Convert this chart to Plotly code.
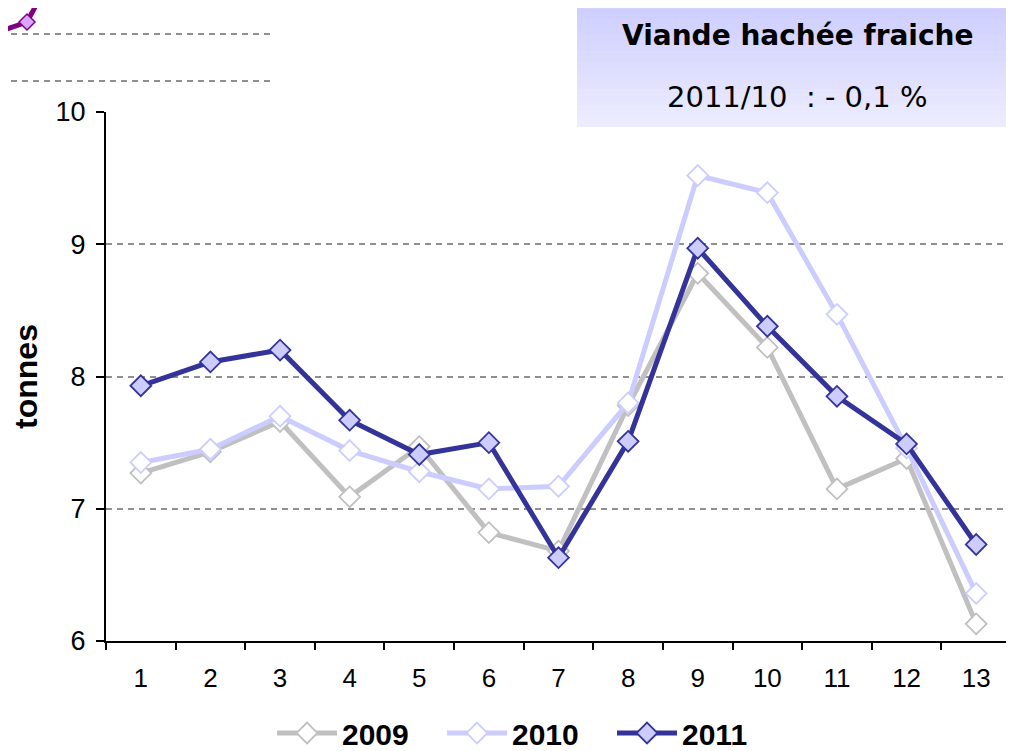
import plotly.graph_objects as go

categories = [str(i) for i in range(1, 14)]
s2009 = [7.27, 7.43, 7.66, 7.09, 7.47, 6.82, 6.68, 7.78, 8.78, 8.22, 7.15, 7.38, 6.13]
s2010 = [7.35, 7.45, 7.70, 7.44, 7.28, 7.15, 7.17, 7.80, 9.52, 9.39, 8.47, 7.46, 6.36]
s2011 = [7.93, 8.11, 8.20, 7.67, 7.41, 7.50, 6.63, 7.51, 8.97, 8.38, 7.85, 7.49, 6.73]
y_ticks = [6, 7, 8, 9, 10]
title_text = "Viande hachée fraiche"
subtitle_text = "2011/10  : - 0,1 %"

FONT = "Liberation Sans, Arial, sans-serif"
BOX_FONT = "DejaVu Sans, Verdana, sans-serif"

# page has an 8px body margin: figure origin sits at screen (8, 8)
OFF = 8
PLOT_L, PLOT_R, PLOT_T, PLOT_B = 106, 1011, 112, 641
W, H = 1014 - OFF, 751 - OFF

fig = go.Figure()
series = [
    ("2009", s2009, "#c0c0c0", "white", "#c0c0c0"),
    ("2010", s2010, "#ccccff", "white", "#ccccff"),
    ("2011", s2011, "#333399", "#ccccff", "#333399"),
]
for name, vals, lc, mf, ml in series:
    fig.add_trace(go.Scatter(
        x=categories, y=vals, name=name, mode="lines+markers",
        line=dict(color=lc, width=5),
        marker=dict(symbol="diamond", size=16, color=mf, line=dict(color=ml, width=1.8)),
    ))


def px(xs):
    return (xs - PLOT_L) / (PLOT_R - PLOT_L)


def py(ys):
    return (PLOT_B - ys) / (PLOT_B - PLOT_T)


shapes = []
# gradient title box
x0p, x1p = px(577), px(1016)
ytop, ybot = py(-2), py(127)
n = 24
c_top = (204, 204, 255)
c_bot = (236, 236, 255)
for i in range(n):
    t = i / (n - 1)
    c = tuple(round(c_top[k] + (c_bot[k] - c_top[k]) * t) for k in range(3))
    ya = ytop - (ytop - ybot) * i / n
    yb = ytop - (ytop - ybot) * (i + 1) / n
    shapes.append(dict(type="rect", xref="paper", yref="paper", x0=x0p, x1=x1p,
                       y0=yb, y1=ya + 0.001, fillcolor="rgb(%d,%d,%d)" % c,
                       line=dict(width=0), layer="above"))

# remnants of the neighbouring chart (top-left)
for yy in (34, 81):
    shapes.append(dict(type="line", xref="paper", yref="paper",
                       x0=px(0), x1=px(270), y0=py(yy), y1=py(yy),
                       line=dict(color="#909090", width=2, dash="6px,5px")))
shapes.append(dict(type="path", xref="paper", yref="paper",
                   path="M %f,%f L %f,%f L %f,%f" % (px(-2), py(32), px(27), py(22), px(40), py(-2)),
                   line=dict(color="#800080", width=5)))
shapes.append(dict(type="path", xref="paper", yref="paper",
                   path="M %f,%f L %f,%f L %f,%f L %f,%f Z" % (
                       px(27), py(14), px(35), py(22), px(27), py(30), px(19), py(22)),
                   fillcolor="#d9a6ff", line=dict(color="#800080", width=1.5)))

fig.update_layout(
    width=W, height=H,
    margin=dict(l=PLOT_L - OFF, r=W - (PLOT_R - OFF), t=PLOT_T - OFF, b=H - (PLOT_B - OFF),
                autoexpand=False),
    paper_bgcolor="white", plot_bgcolor="white",
    font=dict(family=FONT, size=26, color="black"),
    showlegend=True,
    legend=dict(orientation="h", x=px(527), xanchor="center", y=py(733), yanchor="middle",
                font=dict(family=FONT, size=30, color="black", weight="bold"),
                itemwidth=60, tracegroupgap=0, entrywidth=95),
    shapes=shapes,
    xaxis=dict(type="category", range=[-0.5, 12.5], tickson="boundaries", ticks="outside",
               ticklen=7, tickwidth=2, tickcolor="black", showline=True, linecolor="black",
               linewidth=2, showgrid=False, tickfont=dict(size=26), zeroline=False,
               ticklabelstandoff=13),
    yaxis=dict(range=[6, 10], tickvals=y_ticks, ticks="outside", ticklen=8, tickwidth=2,
               tickcolor="black", showline=True, linecolor="black", linewidth=2,
               showgrid=True, gridcolor="#909090", gridwidth=2, griddash="6px,5px",
               zeroline=False, tickfont=dict(size=27), ticklabelstandoff=5,
               title=dict(text="<b>tonnes</b>", font=dict(size=32), standoff=14)),
    annotations=[
        dict(text="<b>%s</b>" % title_text, xref="paper", yref="paper",
             x=px(797), y=py(36), xanchor="center", yanchor="middle",
             showarrow=False, font=dict(family=BOX_FONT, size=28, color="black")),
        dict(text=subtitle_text, xref="paper", yref="paper",
             x=px(797), y=py(97), xanchor="center", yanchor="middle",
             showarrow=False, font=dict(family=BOX_FONT, size=29, color="black")),
    ],
)

fig.write_html("out.html")
